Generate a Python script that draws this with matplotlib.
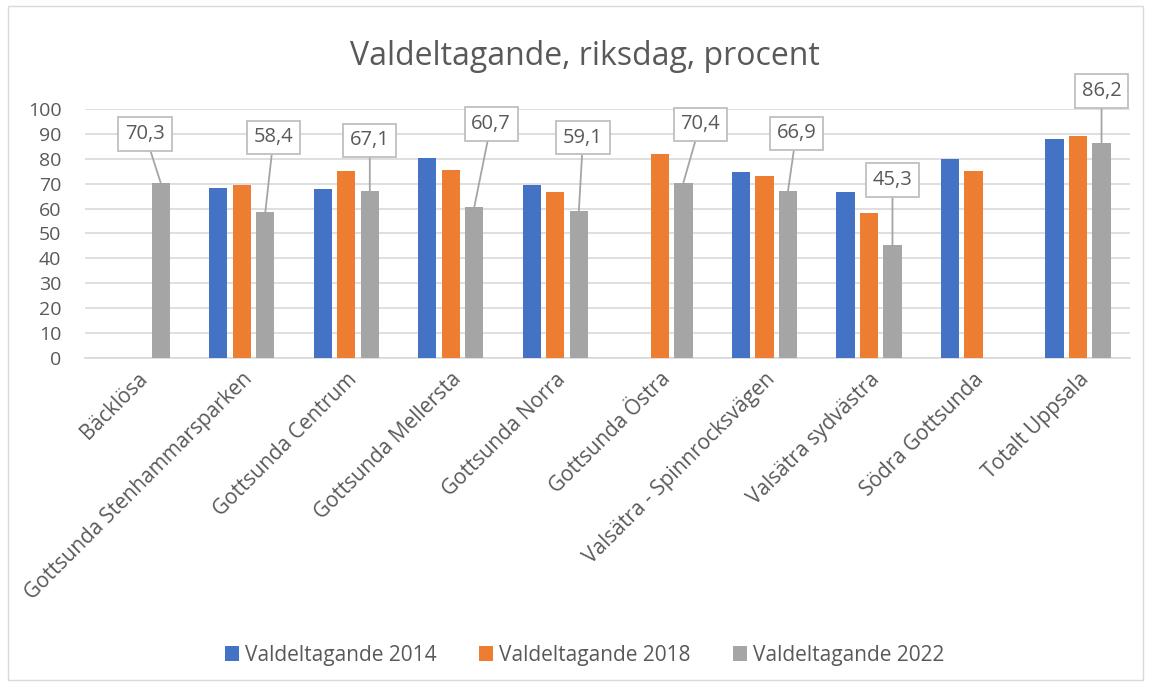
import numpy as np
import matplotlib.pyplot as plt
from matplotlib.patches import Rectangle

plt.rcParams['font.family'] = ['Open Sans', 'DejaVu Sans']

# 数据
omraden = ['Bäcklösa', 'Gottsunda Stenhammarsparken', 'Gottsunda Centrum',
           'Gottsunda Mellersta', 'Gottsunda Norra', 'Gottsunda Östra',
           'Valsätra - Spinnrocksvägen', 'Valsätra sydvästra', 'Södra Gottsunda',
           'Totalt Uppsala']
val_2014 = [np.nan, 68.1, 67.8, 80.4, 69.3, np.nan, 74.7, 66.5, 79.9, 87.9]
val_2018 = [np.nan, 69.4, 75.1, 75.3, 66.8, 81.8, 73.1, 58.3, 75.2, 89.1]
val_2022 = [70.3, 58.4, 67.1, 60.7, 59.1, 70.4, 66.9, 45.3, np.nan, 86.2]
serier = ['Valdeltagande 2014', 'Valdeltagande 2018', 'Valdeltagande 2022']
farger = ['#4472C4', '#ED7D31', '#A5A5A5']

# etikettplacering (x-förskjutning i kategorier, y-läge i data)
etikett_dx = [-0.15, 0.08, 0.0, 0.16, 0.04, 0.16, 0.08, 0.0, 0.0, 0.0]
etikett_y = [90.0, 88.7, 87.4, 94.0, 88.5, 93.9, 90.3, 71.5, None, 107.3]

textfarg = '#595959'

fig = plt.figure(figsize=(11.51, 6.86), dpi=100)
ax = fig.add_axes([0.0738, 0.4786, 0.9082, 0.3624])

x = np.arange(len(omraden))
bredd = 0.175
steg = 0.225
for i, (vals, namn, farg) in enumerate(zip([val_2014, val_2018, val_2022], serier, farger)):
    ax.bar(x + (i - 1) * steg, vals, bredd, color=farg, label=namn, zorder=3)

# dataetiketter med hänvisningslinjer
for i, v in enumerate(val_2022):
    if np.isnan(v):
        continue
    bx = x[i] + steg
    ax.annotate(f'{v:.1f}'.replace('.', ','), xy=(bx, v),
                xytext=(bx + etikett_dx[i], etikett_y[i]),
                ha='center', va='center', fontsize=14.5, color=textfarg,
                annotation_clip=False, zorder=5,
                bbox=dict(boxstyle='square,pad=0.33', fc='white', ec='#bfbfbf', lw=1.3),
                arrowprops=dict(arrowstyle='-', color='#a5a5a5', lw=1.3,
                                shrinkA=0, shrinkB=0))

ax.set_xlim(-0.5, len(omraden) - 0.5)
ax.set_ylim(0, 100)
ax.set_yticks(range(0, 101, 10))
ax.yaxis.grid(True, color='#d9d9d9', lw=1.2, zorder=0)
ax.set_axisbelow(True)
for s in ['top', 'right', 'left']:
    ax.spines[s].set_visible(False)
ax.spines['bottom'].set_color('#d9d9d9')
ax.spines['bottom'].set_linewidth(1.2)
ax.tick_params(length=0, labelcolor=textfarg)
ax.tick_params(axis='y', labelsize=14, pad=17)
ax.tick_params(axis='x', labelsize=15, pad=8)
ax.set_xticks(x)
ax.set_xticklabels(omraden, rotation=45, ha='right', rotation_mode='anchor')

fig.text(0.508, 0.918, 'Valdeltagande, riksdag, procent', ha='center', va='center',
         fontsize=23, color=textfarg)

fig.legend(loc='center', bbox_to_anchor=(0.508, 0.045), ncol=3, frameon=False,
           fontsize=15, handlelength=0.7, handleheight=0.7, handletextpad=0.3,
           columnspacing=2.0, labelcolor=textfarg)

fig.patches.append(Rectangle((8 / 1151, 6 / 686), 1135 / 1151, 674 / 686,
                             transform=fig.transFigure, fill=False,
                             ec='#d9d9d9', lw=1))

plt.savefig('out.png', dpi=100)
